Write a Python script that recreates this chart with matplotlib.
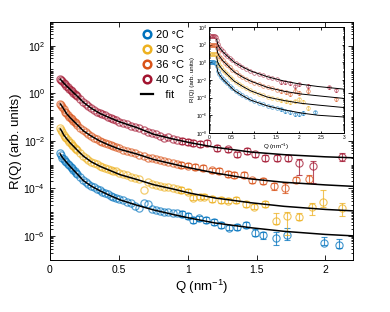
# plot.py - R(Q) vs Q at four temperatures, with inset of full Q range
import matplotlib
matplotlib.use("Agg")
import matplotlib.pyplot as plt
import matplotlib.ticker as mticker
import numpy as np

plt.rcParams["font.family"] = ["Liberation Sans", "DejaVu Sans"]
plt.rcParams["mathtext.fontset"] = "custom"
plt.rcParams["mathtext.rm"] = "Liberation Sans"
plt.rcParams["mathtext.it"] = "Liberation Sans:italic"

# ─── Colours / labels ─────────────────────────────────────────────────────────
COLORS = ["#0072BD", "#EDB120", "#D95319", "#A2142F"]
LABELS = ["20 °C", "30 °C", "36 °C", "40 °C"]

# ─── Main plot data (log10 R) ────────────────────────────────────────────────
Q_LOW = [0.075, 0.08, 0.09, 0.10, 0.11, 0.12, 0.13, 0.14, 0.15, 0.16, 0.17, 0.18,
         0.19, 0.20, 0.22, 0.24, 0.26, 0.28, 0.30, 0.32, 0.34, 0.36, 0.38, 0.40,
         0.42, 0.44, 0.46, 0.48, 0.50]
Q_MID = [0.53, 0.56, 0.59, 0.62, 0.65, 0.68, 0.71, 0.74, 0.77, 0.80, 0.83, 0.86,
         0.89, 0.92]

blue_low = [-2.52, -2.60, -2.70, -2.77, -2.84, -2.90, -2.96, -3.03, -3.10, -3.16,
            -3.22, -3.28, -3.34, -3.40, -3.53, -3.65, -3.74, -3.82, -3.89, -3.95,
            -4.02, -4.08, -4.13, -4.18, -4.22, -4.30, -4.35, -4.40, -4.43]
yell_low = [-1.48, -1.54, -1.64, -1.74, -1.83, -1.90, -1.97, -2.04, -2.10, -2.16,
            -2.22, -2.28, -2.34, -2.40, -2.52, -2.63, -2.72, -2.80, -2.87, -2.93,
            -2.99, -3.05, -3.10, -3.12, -3.17, -3.22, -3.27, -3.28, -3.36]
oran_low = [-0.44, -0.49, -0.58, -0.68, -0.77, -0.85, -0.92, -0.98, -1.04, -1.10,
            -1.16, -1.22, -1.27, -1.33, -1.45, -1.56, -1.64, -1.72, -1.79, -1.86,
            -1.93, -1.99, -2.04, -2.08, -2.14, -2.19, -2.23, -2.27, -2.31]
red_low = [0.58, 0.56, 0.50, 0.43, 0.37, 0.31, 0.25, 0.19, 0.13, 0.08,
           0.03, -0.03, -0.08, -0.13, -0.24, -0.35, -0.45, -0.55, -0.63, -0.71,
           -0.77, -0.83, -0.88, -0.93, -0.98, -1.03, -1.08, -1.13, -1.19]

blue_mid = [-4.48, -4.56, -4.62, -4.72, -4.80, -4.62, -4.66, -4.86, -4.90, -4.93,
            -4.97, -5.00, -5.05, -5.05]
yell_mid = [-3.40, -3.43, -3.52, -3.54, -3.60, -4.06, -3.72, -3.80, -3.84, -3.88,
            -3.92, -3.95, -3.98, -4.02]
oran_mid = [-2.37, -2.42, -2.47, -2.53, -2.58, -2.63, -2.70, -2.74, -2.78, -2.82,
            -2.86, -2.89, -2.94, -2.97]
red_mid = [-1.24, -1.30, -1.36, -1.40, -1.48, -1.55, -1.62, -1.66, -1.73, -1.80,
           -1.86, -1.85, -1.93, -1.96]

# high-Q points: Q, log10 R, error down / up (decades)
blue_hq = [0.96, 1.00, 1.04, 1.08, 1.13, 1.19, 1.24, 1.30, 1.36, 1.42, 1.49, 1.55, 1.64, 1.72, 1.99, 2.10]
blue_hv = [-5.08, -5.16, -5.33, -5.26, -5.33, -5.40, -5.54, -5.64, -5.61, -5.54, -5.86, -5.96, -6.06, -5.96, -6.29, -6.39]
blue_dn = [0.12, 0.12, 0.12, 0.12, 0.12, 0.12, 0.12, 0.12, 0.12, 0.12, 0.15, 0.15, 0.33, 0.21, 0.10, 0.10]
blue_up = [0.12, 0.12, 0.12, 0.12, 0.12, 0.12, 0.12, 0.12, 0.12, 0.12, 0.15, 0.15, 0.24, 0.28, 0.25, 0.28]

yell_hq = [0.95, 1.00, 1.04, 1.09, 1.12, 1.18, 1.24, 1.29, 1.35, 1.42, 1.48, 1.56, 1.64, 1.72, 1.81, 1.90, 1.98, 2.12]
yell_hv = [-4.06, -4.13, -4.38, -4.34, -4.34, -4.45, -4.48, -4.51, -4.48, -4.65, -4.76, -4.65, -5.36, -5.16, -5.19, -4.79, -4.55, -4.80]
yell_dn = [0.12, 0.12, 0.12, 0.12, 0.12, 0.12, 0.12, 0.12, 0.12, 0.12, 0.12, 0.12, 0.12, 0.80, 0.15, 0.33, 0.21, 0.35]
yell_up = [0.12, 0.12, 0.12, 0.12, 0.12, 0.12, 0.12, 0.12, 0.12, 0.12, 0.12, 0.12, 0.32, 0.17, 0.15, 0.17, 0.49, 0.18]

oran_hq = [0.95, 1.00, 1.05, 1.11, 1.18, 1.23, 1.29, 1.34, 1.41, 1.47, 1.55, 1.63, 1.71, 1.79, 1.88]
oran_hv = [-3.00, -3.04, -3.09, -3.14, -3.24, -3.28, -3.38, -3.42, -3.42, -3.66, -3.70, -3.91, -3.98, -3.63, -3.60]
oran_dn = [0.12, 0.12, 0.12, 0.12, 0.12, 0.12, 0.12, 0.12, 0.12, 0.12, 0.12, 0.14, 0.21, 0.13, 0.18]
oran_up = [0.12, 0.12, 0.12, 0.12, 0.12, 0.12, 0.12, 0.12, 0.12, 0.12, 0.12, 0.14, 0.21, 0.13, 0.18]

red_hq = [0.96, 1.00, 1.04, 1.09, 1.14, 1.21, 1.29, 1.36, 1.43, 1.49, 1.56, 1.65, 1.73, 1.81, 1.91, 2.12]
red_hv = [-2.00, -2.06, -2.10, -2.12, -2.08, -2.29, -2.36, -2.57, -2.43, -2.57, -2.71, -2.71, -2.71, -2.95, -3.04, -2.67]
red_dn = [0.12, 0.12, 0.12, 0.12, 0.12, 0.12, 0.12, 0.12, 0.12, 0.12, 0.12, 0.12, 0.12, 0.47, 0.73, 0.19]
red_up = [0.12, 0.12, 0.12, 0.12, 0.12, 0.12, 0.12, 0.12, 0.12, 0.12, 0.12, 0.12, 0.12, 0.20, 0.18, 0.17]

# fit curves
Q_FIT = [0.075, 0.085, 0.10, 0.12, 0.146, 0.17, 0.20, 0.243, 0.30, 0.364, 0.43,
         0.51, 0.63, 0.752, 0.90, 1.02, 1.20, 1.46, 1.70, 2.00, 2.20]
blue_fit = [-2.55, -2.65, -2.76, -2.90, -3.07, -3.22, -3.40, -3.67, -3.90, -4.10, -4.28,
            -4.48, -4.70, -4.90, -5.10, -5.25, -5.45, -5.65, -5.80, -5.93, -5.99]
yell_fit = [-1.50, -1.58, -1.75, -1.90, -2.08, -2.22, -2.40, -2.64, -2.88, -3.07, -3.23,
            -3.42, -3.62, -3.84, -4.03, -4.20, -4.40, -4.60, -4.75, -4.88, -4.94]
oran_fit = [-0.45, -0.52, -0.66, -0.85, -1.02, -1.16, -1.33, -1.58, -1.80, -2.01, -2.18,
            -2.36, -2.55, -2.78, -2.98, -3.14, -3.35, -3.60, -3.74, -3.85, -3.91]
red_fit = [0.59, 0.53, 0.43, 0.31, 0.17, 0.03, -0.13, -0.38, -0.63, -0.85, -1.02,
           -1.21, -1.44, -1.72, -1.93, -2.08, -2.27, -2.47, -2.58, -2.67, -2.71]

# ─── Inset data ───────────────────────────────────────────────────────────────
QI = [0.03, 0.05, 0.07, 0.09, 0.11, 0.13, 0.15, 0.17, 0.19, 0.22, 0.26, 0.30,
      0.35, 0.40, 0.46, 0.52, 0.59, 0.66, 0.74, 0.82, 0.91, 1.00, 1.10, 1.20,
      1.30, 1.40, 1.50]
blue_in = [-0.03, -0.03, -0.03, -0.03, -0.03, -0.04, -0.10, -0.45, -1.00, -1.35, -1.65, -1.90,
           -2.15, -2.40, -2.70, -2.95, -3.25, -3.50, -3.75, -3.95, -4.20, -4.40, -4.60, -4.75,
           -4.95, -5.05, -5.20]
yell_in = [0.96, 0.96, 0.96, 0.96, 0.96, 0.95, 0.90, 0.55, 0.05, -0.30, -0.60, -0.85,
           -1.10, -1.35, -1.65, -1.90, -2.20, -2.45, -2.70, -2.90, -3.15, -3.35, -3.55, -3.75,
           -3.95, -4.05, -4.20]
oran_in = [2.00, 2.00, 2.00, 2.00, 2.00, 1.99, 1.94, 1.65, 1.10, 0.75, 0.45, 0.20,
           -0.05, -0.30, -0.60, -0.85, -1.15, -1.40, -1.65, -1.85, -2.10, -2.30, -2.50, -2.70,
           -2.85, -2.95, -3.10]
red_in = [2.94, 2.94, 2.94, 2.94, 2.94, 2.93, 2.88, 2.55, 2.10, 1.75, 1.45, 1.22,
          0.97, 0.73, 0.45, 0.20, -0.05, -0.30, -0.55, -0.75, -1.00, -1.20, -1.35, -1.50,
          -1.65, -1.80, -1.90]

blue_inq = [1.60, 1.68, 1.79, 1.90, 2.01, 2.10, 2.35]
blue_inv = [-5.35, -5.50, -5.62, -5.89, -5.81, -5.70, -5.62]
yell_inq = [1.60, 1.70, 1.79, 1.90, 2.01, 2.10, 2.21]
yell_inv = [-4.29, -4.40, -4.48, -4.40, -4.20, -4.45, -5.13]
oran_inq = [1.60, 1.70, 1.79, 1.90, 2.01, 2.21, 2.83]
oran_inv = [-3.26, -3.35, -3.60, -3.22, -3.45, -3.22, -4.17]
red_inq = [1.60, 1.68, 1.81, 1.90, 2.01, 2.21, 2.66, 2.83]
red_inv = [-2.20, -2.27, -2.39, -2.69, -2.46, -2.65, -2.84, -3.15]

QI_FIT = [0.17, 0.19, 0.22, 0.30, 0.40, 0.56, 0.75, 0.93, 1.30, 1.68, 2.05, 2.42, 3.00]
blue_infit = [-0.40, -1.00, -1.35, -1.90, -2.40, -3.20, -3.80, -4.30, -4.95, -5.40, -5.75, -6.00, -6.20]
yell_infit = [0.60, 0.05, -0.30, -0.85, -1.35, -2.15, -2.75, -3.25, -3.95, -4.35, -4.65, -4.85, -5.13]
oran_infit = [1.70, 1.10, 0.75, 0.20, -0.30, -1.10, -1.70, -2.15, -2.85, -3.30, -3.60, -3.80, -4.10]
red_infit = [2.60, 2.10, 1.75, 1.22, 0.73, 0.00, -0.55, -1.00, -1.65, -2.15, -2.50, -2.75, -3.05]


def p10(v):
    return 10.0 ** np.asarray(v, dtype=float)


def style_log(ax, fs, maj, mnr):
    ax.set_yscale("log")
    ax.tick_params(which="both", direction="in", top=True, right=True, labelsize=fs, width=0.6)
    ax.tick_params(which="major", length=maj)
    ax.tick_params(which="minor", length=mnr)
    ax.yaxis.set_minor_locator(mticker.LogLocator(base=10, subs=np.arange(1, 10), numticks=40))
    ax.yaxis.set_minor_formatter(mticker.NullFormatter())
    for s in ax.spines.values():
        s.set_linewidth(0.7)


fig = plt.figure(figsize=(3.9, 3.12), dpi=100)
ax = fig.add_axes([0.128, 0.167, 0.777, 0.763])

series = [
    (blue_low, blue_mid, blue_hq, blue_hv, blue_dn, blue_up, blue_fit),
    (yell_low, yell_mid, yell_hq, yell_hv, yell_dn, yell_up, yell_fit),
    (oran_low, oran_mid, oran_hq, oran_hv, oran_dn, oran_up, oran_fit),
    (red_low, red_mid, red_hq, red_hv, red_dn, red_up, red_fit),
]

mk = dict(marker="o", ms=5.2, mfc="none", mew=0.9, ls="none", alpha=0.65)
for (lo, mid, hq, hv, dn, up, fit), c, lab in zip(series, COLORS, LABELS):
    ax.plot(Q_LOW + Q_MID, p10(lo + mid), mec=c, **mk)
    v = p10(hv)
    yerr = [v - v * p10(-np.array(dn)), v * p10(up) - v]
    ax.errorbar(hq, v, yerr=yerr, fmt="o", ms=5.2, mfc="none", mec=c, mew=0.8,
                ecolor=c, elinewidth=0.8, capsize=2.4, capthick=0.8, alpha=0.75)
    # legend handle only
    ax.plot([], [], "o", ms=5.5, mfc="none", mec=c, mew=1.8, label=lab)

for s in series:
    ax.plot(Q_FIT, p10(s[6]), color="black", lw=1.1, zorder=5)
ax.plot([], [], color="black", lw=1.6, label="   fit")

ax.set_xlim(0, 2.2)
ax.set_ylim(1e-7, 1e3)
style_log(ax, 7.5, 3.5, 1.8)
ax.yaxis.set_major_locator(mticker.FixedLocator([1e-6, 1e-4, 1e-2, 1e0, 1e2]))
ax.set_xticks([0, 0.5, 1, 1.5, 2])
ax.set_xticklabels(["0", "0.5", "1", "1.5", "2"])
ax.set_xlabel("Q (nm$^{-1}$)", fontsize=9.5, labelpad=2)
ax.set_ylabel("R(Q) (arb. units)", fontsize=9.5, labelpad=1)

leg = ax.legend(loc="upper left", bbox_to_anchor=(0.28, 0.995), frameon=False, fontsize=8,
                handlelength=1.0, handletextpad=0.35, labelspacing=0.45, borderaxespad=0.2)
leg.set_zorder(20)

# ─── Inset ────────────────────────────────────────────────────────────────────
axi = fig.add_axes([0.536, 0.574, 0.346, 0.340])
inset = [
    (blue_in, blue_inq, blue_inv, blue_infit),
    (yell_in, yell_inq, yell_inv, yell_infit),
    (oran_in, oran_inq, oran_inv, oran_infit),
    (red_in, red_inq, red_inv, red_infit),
]
for (vals, hq, hv, fit), c in zip(inset, COLORS):
    axi.plot(QI, p10(vals), "o", ms=2.6, mfc="none", mec=c, mew=0.5, alpha=0.7)
    v = p10(hv)
    axi.errorbar(hq, v, yerr=0.4 * v, fmt="o", ms=2.6, mfc="none", mec=c, mew=0.5,
                 ecolor=c, elinewidth=0.5, capsize=1.0, capthick=0.5, alpha=0.7)
    axi.plot(QI_FIT, p10(fit), color="black", lw=0.7, zorder=5)

axi.set_xlim(0, 3)
axi.set_ylim(1e-8, 1e4)
style_log(axi, 3.5, 1.8, 0.9)
axi.yaxis.set_major_locator(mticker.FixedLocator([1e-8, 1e-6, 1e-4, 1e-2, 1e0, 1e2, 1e4]))
axi.set_xticks([0, 0.5, 1, 1.5, 2, 2.5, 3])
axi.set_xticklabels(["0", "0.5", "1", "1.5", "2", "2.5", "3"])
axi.tick_params(pad=1.5)
axi.set_xlabel("Q (nm$^{-1}$)", fontsize=4.5, labelpad=1.5)
axi.set_ylabel("R(Q) (arb. units)", fontsize=4.5, labelpad=0.5)

fig.savefig("out.png", dpi=100)
